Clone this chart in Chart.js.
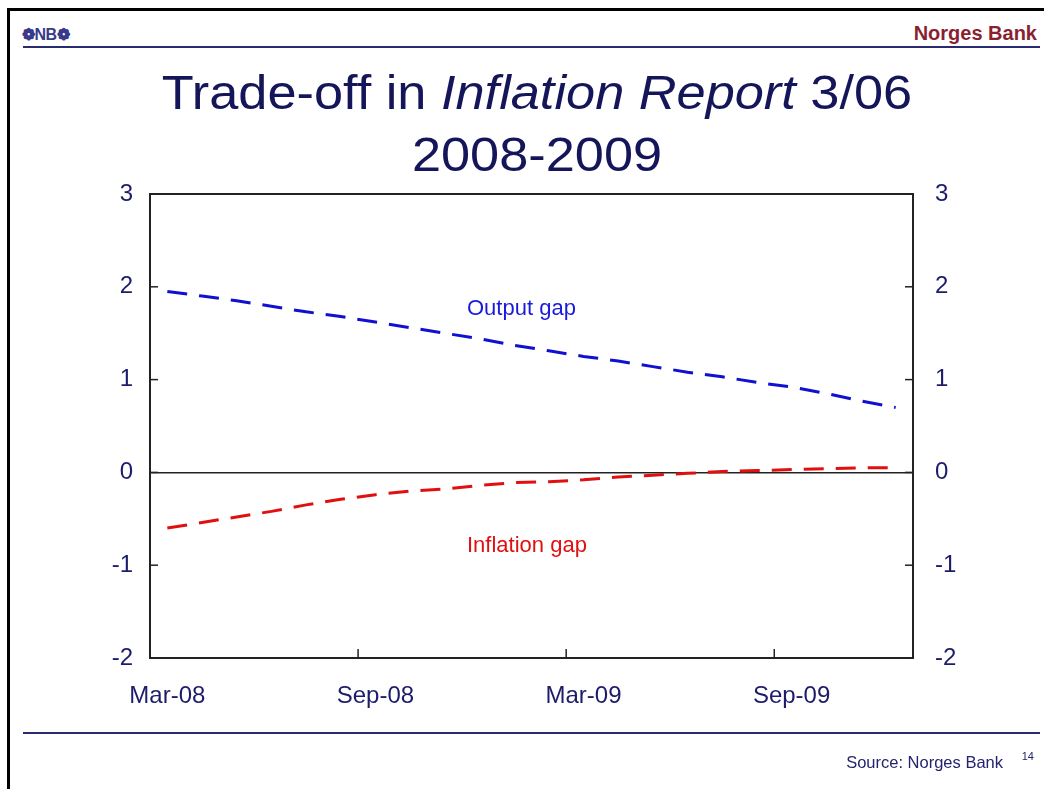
<!DOCTYPE html>
<html>
<head>
<meta charset="utf-8">
<script src="https://cdn.jsdelivr.net/npm/chart.js@4"></script>
<style>
  html, body { margin:0; padding:0; background:#fff; }
  body { width:1044px; height:789px; position:relative; overflow:hidden; font-family:"Liberation Sans", Arial, sans-serif; }
  #frame { position:absolute; left:7px; top:8px; width:1100px; height:900px; border-left:3px solid #000; border-top:3px solid #000; }
  #logo { position:absolute; left:22px; top:25px; font-size:16px; font-weight:bold; color:#3a3a8a; letter-spacing:-0.5px; }
  #bank { position:absolute; right:7px; top:22px; font-size:20px; font-weight:bold; color:#8b1f32; }
  .rule { position:absolute; left:23px; right:4px; height:2px; background:#2a2a70; }
  #title { position:absolute; left:0; width:1074px; top:62px; text-align:center; font-size:48px; line-height:62px; color:#15155a; transform:scaleX(1.09); transform-origin:537px 0; }
  #chartwrap { position:absolute; left:0; top:0; width:1044px; height:789px; }
  .ann { position:absolute; font-size:22px; }
  #src { position:absolute; right:41px; top:753px; font-size:16.5px; color:#23236e; }
  #pg { position:absolute; right:10px; top:750px; font-size:11px; color:#23236e; }
</style>
</head>
<body>
<div id="frame"></div>
<div id="logo">&#10049;NB&#10049;</div>
<div id="bank">Norges Bank</div>
<div class="rule" style="top:46px"></div>
<div id="title">Trade-off in <i>Inflation Report</i> 3/06<br>2008-2009</div>
<div id="chartwrap"><canvas id="c" width="1044" height="789"></canvas></div>
<div class="ann" style="left:467px; top:295px; color:#1a1adc;">Output gap</div>
<div class="ann" style="left:467px; top:532px; color:#e01010;">Inflation gap</div>
<div class="rule" style="top:732px"></div>
<div id="src">Source: Norges Bank</div>
<div id="pg">14</div>
<script>
const months = ["Mar-08","Apr-08","May-08","Jun-08","Jul-08","Aug-08","Sep-08","Oct-08","Nov-08","Dec-08",
  "Jan-09","Feb-09","Mar-09","Apr-09","May-09","Jun-09","Jul-09","Aug-09","Sep-09","Oct-09","Nov-09","Dec-09"];
const outputGap = [1.95,1.90,1.85,1.79,1.73,1.68,1.62,1.56,1.50,1.44,1.37,1.31,1.25,1.20,1.14,1.08,1.03,0.97,0.92,0.85,0.77,0.70];
const inflationGap = [-0.60,-0.54,-0.48,-0.42,-0.35,-0.29,-0.24,-0.20,-0.18,-0.14,-0.11,-0.10,-0.08,-0.05,-0.03,-0.01,0.01,0.02,0.03,0.04,0.05,0.05];
const yTicks = [-2,-1,0,1,2,3];
const labelEvery = 6;

const AXIS = "#1c1c6a";
const FONT = "'Liberation Sans', Arial, sans-serif";

const framePlugin = {
  id: "frame",
  afterDatasetsDraw(chart) {
    const {ctx, chartArea: a, scales} = chart;
    ctx.save();
    ctx.strokeStyle = "#222";
    ctx.lineWidth = 2;
    ctx.strokeRect(a.left, a.top, a.right - a.left, a.bottom - a.top);
    ctx.lineWidth = 1.5;
    const xs = scales.x;
    xs.ticks.forEach((t, i) => {
      if (i % labelEvery === 0 && i > 0) {
        const px = (xs.getPixelForTick(i) + xs.getPixelForTick(i - 1)) / 2;
        ctx.beginPath(); ctx.moveTo(px, a.bottom); ctx.lineTo(px, a.bottom - 9); ctx.stroke();
      }
    });
    yTicks.forEach(v => {
      const py = scales.y.getPixelForValue(v);
      ctx.beginPath(); ctx.moveTo(a.left, py); ctx.lineTo(a.left + 8, py); ctx.stroke();
      ctx.beginPath(); ctx.moveTo(a.right, py); ctx.lineTo(a.right - 8, py); ctx.stroke();
    });
    ctx.restore();
  }
};

new Chart(document.getElementById("c"), {
  type: "line",
  data: {
    labels: months,
    datasets: [
      { label: "Output gap", data: outputGap, borderColor: "#1010d0", borderWidth: 3, borderDash: [20, 12], pointRadius: 0, tension: 0, fill: false },
      { label: "Inflation gap", data: inflationGap, borderColor: "#e01010", borderWidth: 3, borderDash: [20, 12], pointRadius: 0, tension: 0, fill: false }
    ]
  },
  options: {
    responsive: false,
    animation: false,
    layout: { autoPadding: false, padding: { top: 194, left: 0, right: 0, bottom: 0 } },
    plugins: { legend: { display: false }, tooltip: { enabled: false }, title: { display: false } },
    scales: {
      x: {
        offset: true,
        grid: { display: false, offset: true },
        border: { display: false },
        ticks: {
          autoSkip: false, maxRotation: 0, padding: 16,
          color: AXIS, font: { family: FONT, size: 24 },
          callback: function(v, i) { return i % labelEvery === 0 ? months[i] : ""; }
        },
        afterFit(s) { s.height = 131; }
      },
      y: {
        position: "left", min: -2, max: 3,
        afterBuildTicks(s) { s.ticks = yTicks.map(v => ({ value: v })); },
        grid: { drawTicks: false, lineWidth: 1.5, color: c => (c.tick && c.tick.value === 0 ? "#222" : "rgba(0,0,0,0)") },
        border: { display: false },
        ticks: { padding: 17, color: AXIS, font: { family: FONT, size: 24 } },
        afterFit(s) { s.width = 150; }
      },
      y2: {
        position: "right", min: -2, max: 3,
        afterBuildTicks(s) { s.ticks = yTicks.map(v => ({ value: v })); },
        grid: { display: false, drawTicks: false },
        border: { display: false },
        ticks: { padding: 22, color: AXIS, font: { family: FONT, size: 24 } },
        afterFit(s) { s.width = 131; }
      }
    }
  },
  plugins: [framePlugin]
});
</script>
</body>
</html>
